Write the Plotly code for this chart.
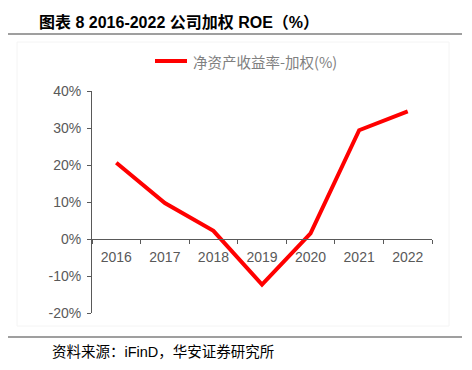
import plotly.graph_objects as go

years = ["2016", "2017", "2018", "2019", "2020", "2021", "2022"]
roe = [20.6, 9.7, 2.2, -12.3, 1.5, 29.4, 34.5]
series_name = "净资产收益率-加权(%)"
y_ticks = [-20, -10, 0, 10, 20, 30, 40]
y_tick_labels = ["-20%", "-10%", "0%", "10%", "20%", "30%", "40%"]

# page body has an 8px margin; work in reference-pixel coordinates
OFF = 8
W, H = 456, 354
L, T = 92 - OFF, 91 - OFF
R = W - (432 - OFF)
B = H - (313 - OFF)
PW, PH = W - L - R, H - T - B


def xp(rx):
    return (rx - OFF - L) / PW


def yp(ry):
    return 1 - (ry - OFF - T) / PH


fig = go.Figure()
fig.add_trace(go.Scatter(
    x=years, y=roe, mode="lines", name=series_name,
    line=dict(color="#FF0000", width=4),
))

axis_color = "#595959"
tick_font = dict(family="Liberation Sans, Arial", size=14, color=axis_color)
fig.update_layout(
    width=W, height=H,
    margin=dict(l=L, r=R, t=T, b=B, autoexpand=False),
    paper_bgcolor="white", plot_bgcolor="white",
    showlegend=False,
    xaxis=dict(
        type="category", range=[-0.5, 6.5],
        anchor="free", position=1/3,
        showline=True, linecolor=axis_color, linewidth=1,
        ticks="outside", tickson="boundaries", ticklen=4, tickcolor=axis_color,
        showgrid=False, zeroline=False, ticklabelstandoff=5,
        tickfont=tick_font,
    ),
    yaxis=dict(
        range=[-20, 40], tickvals=y_ticks, ticktext=y_tick_labels,
        showline=True, linecolor=axis_color, linewidth=1,
        ticks="outside", ticklen=4, tickcolor=axis_color,
        showgrid=False, zeroline=False, ticklabelstandoff=3,
        tickfont=tick_font,
    ),
    shapes=[
        dict(type="line", xref="paper", yref="paper",
             x0=xp(0), x1=xp(462), y0=yp(34), y1=yp(34),
             line=dict(color="#404040", width=1.2)),
        dict(type="line", xref="paper", yref="paper",
             x0=xp(0), x1=xp(462), y0=yp(337), y1=yp(337),
             line=dict(color="#404040", width=1.2)),
        dict(type="rect", xref="paper", yref="paper",
             x0=xp(17), x1=xp(449), y0=yp(326), y1=yp(42),
             line=dict(color="#f4f4f4", width=1)),
        # legend sample line
        dict(type="line", xref="paper", yref="paper",
             x0=xp(155), x1=xp(187), y0=yp(61), y1=yp(61),
             line=dict(color="#FF0000", width=4)),
    ],
    annotations=[
        dict(text="<b>图表 8 2016-2022 公司加权 ROE（%）</b>",
             xref="paper", yref="paper", x=xp(37), y=yp(22),
             xanchor="left", yanchor="middle", showarrow=False,
             font=dict(family="Liberation Sans, Noto Sans CJK SC", size=16, color="#000000")),
        dict(text=series_name,
             xref="paper", yref="paper", x=xp(191), y=yp(61),
             xanchor="left", yanchor="middle", showarrow=False,
             font=dict(family="Noto Sans CJK SC", size=14.5, color="#808080")),
        dict(text="资料来源：iFinD，华安证券研究所",
             xref="paper", yref="paper", x=xp(50), y=yp(352),
             xanchor="left", yanchor="middle", showarrow=False,
             font=dict(family="Liberation Sans, Noto Sans CJK SC", size=14.5, color="#000000")),
    ],
)

fig.write_html("out.html")
